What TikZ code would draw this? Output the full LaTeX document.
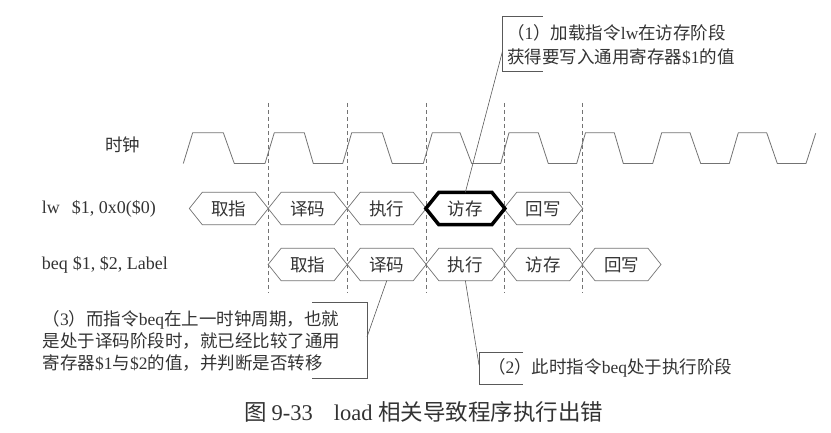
\documentclass[tikz,border=0pt]{standalone}
\usepackage{fontspec}
\setmainfont{Liberation Serif}
\newfontfamily\cjk{Noto Sans CJK SC}
\usetikzlibrary{calc}
\newcommand\hexpath[2]{%
  \path[#2] (#1.north west) -- (#1.north east) -- ($(#1.east)+(13,0)$) -- (#1.south east)
    -- (#1.south west) -- ($(#1.west)+(-13,0)$) -- cycle;}
\begin{document}
\begin{tikzpicture}[x=1pt,y=-1pt,
  txt/.style={inner sep=0pt, text=black!80, font=\fontsize{17.5}{21}\selectfont\cjk,
    text height=15.4pt, text depth=2.1pt},
  calltxt/.style={txt, anchor=west},
  lat/.style={inner sep=0pt, text=black!80, font=\fontsize{18}{21}\selectfont, anchor=west},
  hexbox/.style={txt, minimum width=52.6pt, minimum height=32pt},
  hexline/.style={draw=black!55, line width=0.7pt},
  hexbold/.style={draw=black, line width=3.5pt},
  wave/.style={draw=black!55, line width=0.8pt},
  guide/.style={draw=black!55, line width=0.6pt, dash pattern=on 4pt off 3pt},
  lead/.style={draw=black!65, line width=0.6pt},
]
\useasboundingbox (0,0) rectangle (831,433);

% dashed guide lines
\foreach \i/\x in {1/268.3, 2/347, 3/426.5, 4/504.2, 5/582.3}{
  \coordinate (g\i t) at (\x,103);
  \coordinate (g\i b) at (\x,293);
  \draw[guide] (g\i t) -- (g\i b);
}

% clock
\node[txt] (clk) at (122.5,145) {时钟};
\draw[wave, line join=round] (183.3,163.5) -- (192.7,132.7) -- (223.3,132.7) -- (234.3,163.5)
  -- (265,163.5) -- (274.3,132.7) -- (304.3,132.7) -- (313.3,163.5)
  -- (342.7,163.5) -- (351.7,132.7) -- (382.3,132.7) -- (392.3,163.5)
  -- (423.3,163.5) -- (432.3,132.7) -- (460,132.7) -- (471.7,163.5)
  -- (500.7,163.5) -- (509,132.7) -- (538.3,132.7) -- (548.3,163.5)
  -- (576.7,163.5) -- (585.5,132.7) -- (614.3,132.7) -- (623.3,163.5)
  -- (652.7,163.5) -- (661.7,132.7) -- (690,132.7) -- (700.7,163.5)
  -- (729.3,163.5) -- (738.3,132.7) -- (766.7,132.7) -- (777.3,163.5)
  -- (806,163.5) -- (815.7,133.3);

% instruction labels
\node[lat] (lwlab) at (41.7,208.5) {lw\hspace{12pt}\$1, 0x0(\$0)};
\node[lat] (beqlab) at (41.7,264.5) {beq\hspace{5pt}\$1, \$2, Label};

% lw row
\node[hexbox] (lwIF) at (228.8,208.5) {取指};
\node[hexbox] (lwID) at (307.65,208.5) {译码};
\node[hexbox] (lwEX) at (386.75,208.5) {执行};
\node[hexbox] (lwMEM) at (465.35,208.5) {访存};
\node[hexbox] (lwWB) at (543.25,208.5) {回写};
\hexpath{lwIF}{hexline}
\hexpath{lwID}{hexline}
\hexpath{lwEX}{hexline}
\hexpath{lwWB}{hexline}
\hexpath{lwMEM}{hexbold}

% beq row
\node[hexbox] (beqIF) at (307.65,264.5) {取指};
\node[hexbox] (beqID) at (386.75,264.5) {译码};
\node[hexbox] (beqEX) at (465.35,264.5) {执行};
\node[hexbox] (beqMEM) at (543.25,264.5) {访存};
\node[hexbox] (beqWB) at (621.5,264.5) {回写};
\hexpath{beqIF}{hexline}
\hexpath{beqID}{hexline}
\hexpath{beqEX}{hexline}
\hexpath{beqMEM}{hexline}
\hexpath{beqWB}{hexline}

% callout (1)
\coordinate (b1a) at (542.7,16.7);
\coordinate (b1b) at (502.3,16.7);
\coordinate (b1c) at (502.3,71.7);
\coordinate (b1d) at (542.7,71.7);
\coordinate (b1m) at (502.3,52);
\draw[lead] (b1a) -- (b1b) -- (b1c) -- (b1d);
\draw[lead] (b1m) -- (lwMEM.north);
\node[calltxt] (c1a) at (507,33) {（\textrm{1}）加载指令\textrm{lw}在访存阶段};
\node[calltxt] (c1b) at (507,57) {获得要写入通用寄存器\textrm{\$1}的值};

% callout (3)
\coordinate (b3a) at (312,302);
\coordinate (b3b) at (367,302);
\coordinate (b3c) at (367,378);
\coordinate (b3d) at (312,378);
\coordinate (b3m) at (367,337);
\draw[lead] (b3a) -- (b3b) -- (b3c) -- (b3d);
\draw[lead] (b3m) -- (beqID.south);
\node[calltxt] (c3a) at (42.5,319) {（\textrm{3}）而指令\textrm{beq}在上一时钟周期，也就};
\node[calltxt] (c3b) at (42.5,341) {是处于译码阶段时，就已经比较了通用};
\node[calltxt] (c3c) at (42.5,363) {寄存器\textrm{\$1}与\textrm{\$2}的值，并判断是否转移};

% callout (2)
\coordinate (b2a) at (523,352);
\coordinate (b2b) at (479,352);
\coordinate (b2c) at (479,384);
\coordinate (b2d) at (523,384);
\coordinate (b2m) at (479,365);
\draw[lead] (b2a) -- (b2b) -- (b2c) -- (b2d);
\draw[lead] (b2m) -- (beqEX.south);
\node[calltxt] (c2) at (488,367) {（\textrm{2}）此时指令\textrm{beq}处于执行阶段};

% caption
\node[anchor=west, inner sep=0pt, text=black!80, font=\fontsize{22.5}{27}\selectfont] (cap)
  at (244,412) {{\cjk 图}\hspace{5pt}9-33\hspace{21pt}load {\cjk 相关导致程序执行出错}};
\end{tikzpicture}
\end{document}
